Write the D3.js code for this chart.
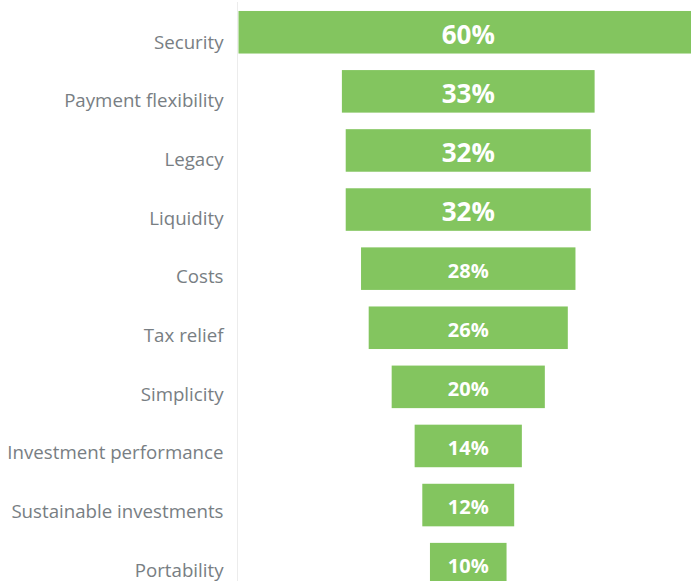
<!DOCTYPE html>
<html>
<head>
<meta charset="utf-8">
<script src="https://cdn.jsdelivr.net/npm/d3@7"></script>
<style>
  body { margin: 0; background: #fff; }
  svg { display: block; }
</style>
</head>
<body>
<div class="center"></div>
<script>
// data
var categories = ["Security", "Payment flexibility", "Legacy", "Liquidity", "Costs",
                  "Tax relief", "Simplicity", "Investment performance",
                  "Sustainable investments", "Portability"];
var values = [60, 33, 32, 32, 28, 26, 20, 14, 12, 10];

var data = categories.map(function(c, i) { return {name: c, value: values[i]}; });

var width = 691,
    height = 581;

var svg = d3.select(".center").append("svg")
    .attr("width", width)
    .attr("height", height);

// symmetric scale so bars are centred (funnel)
var x = d3.scaleLinear().domain([-60, 60]).range([238.5, 698]);

var y = d3.scaleBand()
    .domain(categories)
    .range([2.7, 2.7 + 59.1 * categories.length])
    .paddingInner(0.28)
    .paddingOuter(0.14);

// labels sit on a slightly tighter spacing than the bars
var yLabel = d3.scalePoint().domain(categories).range([42, 570]);

// vertical axis line
svg.append("line")
    .attr("x1", 237.5)
    .attr("x2", 237.5)
    .attr("y1", 2)
    .attr("y2", height)
    .style("stroke", "#ececec")
    .style("stroke-width", 1);

// bars
svg.selectAll("rect.bar")
    .data(data)
    .enter().append("rect")
    .attr("class", "bar")
    .attr("x", function(d) { return x(-d.value); })
    .attr("width", function(d) { return x(d.value) - x(-d.value); })
    .attr("y", function(d) { return y(d.name); })
    .attr("height", y.bandwidth())
    .style("fill", "#83c55f");

// values inside bars
svg.selectAll("text.value")
    .data(data)
    .enter().append("text")
    .attr("class", "value")
    .attr("x", x(0))
    .attr("y", function(d) {
        var fs = d.value >= 30 ? 26 : 20;
        return y(d.name) + y.bandwidth() / 2 + 2 + 0.357 * fs;
    })
    .attr("text-anchor", "middle")
    .style("font-family", "'Open Sans', sans-serif")
    .style("font-weight", "bold")
    .style("font-size", function(d) { return (d.value >= 30 ? 26 : 20) + "px"; })
    .style("fill", "#fff")
    .text(function(d) { return d.value + "%"; });

// category labels
svg.selectAll("text.label")
    .data(data)
    .enter().append("text")
    .attr("class", "label")
    .attr("x", 223.5)
    .attr("y", function(d) { return yLabel(d.name) + 6.7; })
    .attr("text-anchor", "end")
    .style("font-family", "'Open Sans', sans-serif")
    .style("font-size", "18.7px")
    .style("fill", "#787e83")
    .text(function(d) { return d.name; });
</script>
</body>
</html>
